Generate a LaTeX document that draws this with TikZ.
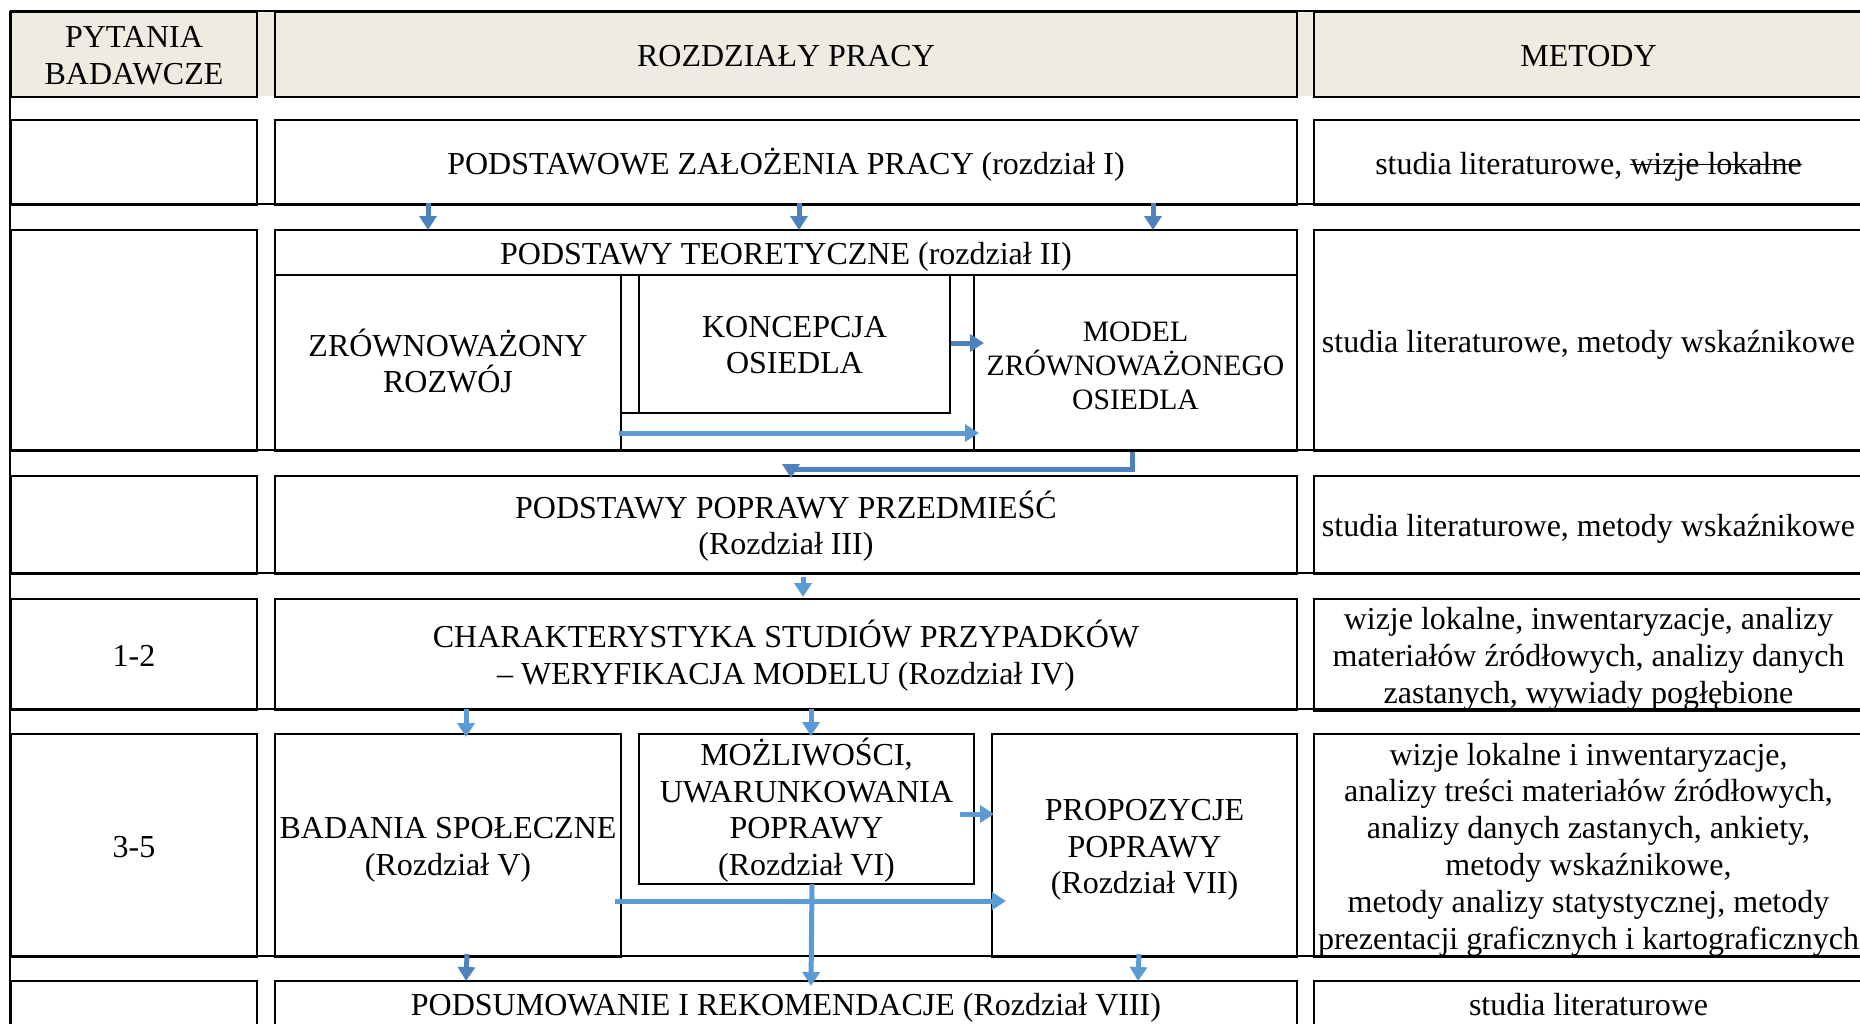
\documentclass[tikz,border=0pt]{standalone}
\usepackage{fontspec}
\setmainfont{Liberation Serif}
\usetikzlibrary{arrows.meta,calc}
\definecolor{hdr}{HTML}{EEECE1}
\definecolor{arrdark}{HTML}{4F81BD}
\definecolor{arrlight}{HTML}{5B9BD5}
\newcommand{\tnr}{\fontsize{32}{36.8}\selectfont\lineskiplimit=-100pt\relax}
\newcommand{\mdlfont}{\fontsize{29.6}{33.7}\selectfont\lineskiplimit=-100pt\relax}
\newcommand{\Ls}{\rule[-7.5pt]{0pt}{38pt}}
\newcommand{\Lm}{\rule[-5pt]{0pt}{35pt}}
\newsavebox{\strkbox}
\newcommand{\strk}[1]{\sbox{\strkbox}{#1}\rlap{\rule[0.27em]{\wd\strkbox}{1.6pt}}\usebox{\strkbox}}
\begin{document}
\begin{tikzpicture}[x=1pt,y=-1pt,
  cell/.style={draw, line width=2pt, inner sep=0pt, align=center, anchor=north west, font=\tnr, text=black},
  rule/.style={line width=2pt},
  arrD/.style={draw=arrdark, line width=5pt, -{Triangle[width=17pt,length=14pt]}},
  arrL/.style={draw=arrlight, line width=5pt, -{Triangle[width=17pt,length=14pt]}},
]
\useasboundingbox (0,0) rectangle (1860,1023);
\clip (0,0) rectangle (1860,1023);

% header row
\fill[hdr] (10,11) rectangle (1862,96);
\node[cell, minimum width=246pt, minimum height=85pt] (hL) at (10,11) {\Ls PYTANIA\\\Ls BADAWCZE};
\node[cell, minimum width=1022pt, minimum height=85pt] (hM) at (274,11) {\Ls ROZDZIAŁY PRACY};
\node[cell, minimum width=549pt, minimum height=85pt] (hR) at (1313,11) {\Ls METODY};
\draw[rule] (hL.north west) -- (hR.north east);
\draw[rule] (hL.north west) -- (10,1030);

% row rules
\foreach \yy in {204,450,573,709,956} \draw[rule] (10,\yy) -- (1862,\yy);

% row 1
\node[cell, minimum width=246pt, minimum height=85pt] (r1L) at (10,119) {};
\node[cell, minimum width=1022pt, minimum height=85pt] (r1M) at (274,119) {\Ls PODSTAWOWE ZAŁOŻENIA PRACY (rozdział I)};
\node[cell, minimum width=549pt, minimum height=85pt] (r1R) at (1313,119) {\Ls studia literaturowe, \strk{wizje lokalne}};

% row 2
\node[cell, minimum width=246pt, minimum height=221pt] (r2L) at (10,229) {};
\node[cell, minimum width=1022pt, minimum height=221pt] (r2M) at (274,229) {};
\node[cell, minimum width=1022pt, minimum height=45pt] (r2T) at (274,229) {\Ls PODSTAWY TEORETYCZNE (rozdział II)};
\node[cell, minimum width=346pt, minimum height=176pt] (zr) at (274,274) {\Ls ZRÓWNOWAŻONY\\\Ls ROZWÓJ};
\node[cell, minimum width=329pt, minimum height=138pt] (konO) at (620,274) {};
\node[cell, minimum width=311pt, minimum height=138pt] (kon) at (638,274) {\Ls KONCEPCJA\\\Ls OSIEDLA};
\node[cell, minimum width=323pt, minimum height=176pt, font=\mdlfont] (model) at (973,274) {\Lm MODEL\\\Lm ZRÓWNOWAŻONEGO\\\Lm OSIEDLA};
\node[cell, minimum width=549pt, minimum height=221pt] (r2R) at (1313,229) {\Ls studia literaturowe, metody wskaźnikowe};

% row 3
\node[cell, minimum width=246pt, minimum height=98pt] (r3L) at (10,475) {};
\node[cell, minimum width=1022pt, minimum height=98pt] (r3M) at (274,475) {\Ls PODSTAWY POPRAWY PRZEDMIEŚĆ\\\Ls (Rozdział III)};
\node[cell, minimum width=549pt, minimum height=98pt] (r3R) at (1313,475) {\Ls studia literaturowe, metody wskaźnikowe};

% row 4
\node[cell, minimum width=246pt, minimum height=111pt] (r4L) at (10,598) {\Ls 1-2};
\node[cell, minimum width=1022pt, minimum height=111pt] (r4M) at (274,598) {\Ls CHARAKTERYSTYKA STUDIÓW PRZYPADKÓW\\\Ls – WERYFIKACJA MODELU (Rozdział IV)};
\node[cell, minimum width=549pt, minimum height=111pt] (r4R) at (1313,598) {\Ls wizje lokalne, inwentaryzacje, analizy\\\Ls materiałów źródłowych, analizy danych\\\Ls zastanych, wywiady pogłębione};

% row 5
\node[cell, minimum width=246pt, minimum height=223pt] (r5L) at (10,733) {\Ls 3-5};
\node[cell, minimum width=346pt, minimum height=223pt] (bad) at (274,733) {\Ls BADANIA SPOŁECZNE\\\Ls (Rozdział V)};
\node[cell, minimum width=335pt, minimum height=150pt] (moz) at (638,733) {\Ls MOŻLIWOŚCI,\\\Ls UWARUNKOWANIA\\\Ls POPRAWY\\\Ls (Rozdział VI)};
\node[cell, minimum width=305pt, minimum height=223pt] (prop) at (991,733) {\Ls PROPOZYCJE\\\Ls POPRAWY\\\Ls (Rozdział VII)};
\node[cell, minimum width=549pt, minimum height=223pt] (r5R) at (1313,733) {\Ls wizje lokalne i inwentaryzacje,\\\Ls analizy treści materiałów źródłowych,\\\Ls analizy danych zastanych, ankiety,\\\Ls metody wskaźnikowe,\\\Ls metody analizy statystycznej, metody\\\Ls prezentacji graficznych i kartograficznych};

% row 6
\node[cell, minimum width=246pt, minimum height=46pt] (r6L) at (10,980) {};
\node[cell, minimum width=1022pt, minimum height=46pt] (r6M) at (274,980) {\Ls PODSUMOWANIE I REKOMENDACJE (Rozdział VIII)};
\node[cell, minimum width=549pt, minimum height=46pt] (r6R) at (1313,980) {\Ls studia literaturowe};

% arrows row1 -> row2
\draw[arrD] ($(r1M.south west)+(154,-3)$) -- ($(r2M.north west)+(154,1)$);
\draw[arrD] ($(r1M.south west)+(525,-3)$) -- ($(r2M.north west)+(525,1)$);
\draw[arrD] ($(r1M.south west)+(879,-3)$) -- ($(r2M.north west)+(879,1)$);

% row 2 internal
\draw[arrD] ($(kon.east)+(0,-1)$) -- ($(kon.east -| model.west)+(11,-1)$);
\draw[arrL] ($(zr.south east)+(-3,-19)$) -- ($(model.south west)+(6,-19)$);
\draw[arrD] ($(model.south)+(-3,0)$) -- ++(0,17) -| ($(r3M.north)+(5,3)$);

% row 3 -> row 4
\draw[arrL] ($(r3M.south)+(17,2)$) -- ($(r4M.north)+(17,-1)$);

% row 4 -> row 5
\draw[arrL] ($(r4M.south west)+(192,-2)$) -- ($(bad.north west)+(192,4)$);
\draw[arrL] ($(r4M.south west)+(537,-2)$) -- ($(moz.north west)+(173,3)$);

% row 5 internal
\draw[arrL] ($(moz.east)+(-15,5)$) -- ($(moz.east -| prop.west)+(3,5)$);
\draw[arrL] ($(bad.east)+(-7,55.5)$) -- ($(prop.west)+(15,55.5)$);
\draw[arrL] ($(moz.south)+(5.5,-1)$) -- ($(r6M.north west)+(537,6)$);

% row 5 -> row 6
\draw[arrD] ($(bad.south)+(19,-4)$) -- ($(r6M.north west)+(192,1)$);
\draw[arrL] ($(prop.south)+(-5.5,-4)$) -- ($(r6M.north west)+(864,1)$);
\end{tikzpicture}
\end{document}
